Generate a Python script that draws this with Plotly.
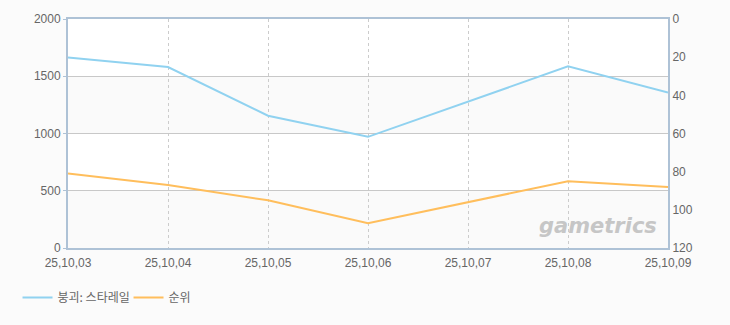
import plotly.graph_objects as go

dates = ["25,10,03", "25,10,04", "25,10,05", "25,10,06", "25,10,07", "25,10,08", "25,10,09"]
players = [1664, 1581, 1155, 971, None, 1586, 1357]
rank = [81, 87, 95, 107, None, 85, 88]
name_a = "붕괴: 스타레일"
name_b = "순위"
left_ticks = [0, 500, 1000, 1500, 2000]
right_ticks = [0, 20, 40, 60, 80, 100, 120]

font_fam = "Liberation Sans, Noto Sans CJK KR"
fig = go.Figure()
fig.add_trace(go.Scatter(x=dates, y=players, name=name_a, mode="lines", connectgaps=True,
                         line=dict(color="#90d2f0", width=2)))
fig.add_trace(go.Scatter(x=dates, y=rank, name=name_b, mode="lines", connectgaps=True, yaxis="y2",
                         line=dict(color="#ffbe5c", width=2)))

# alternating bands
for lo, hi in [(0, 500), (1000, 1500)]:
    fig.add_shape(type="rect", xref="paper", x0=0, x1=1, yref="y", y0=lo, y1=hi,
                  fillcolor="#fafafa", line=dict(width=0), layer="below")

fig.add_annotation(text="<i><b>gametrics</b></i>", xref="paper", yref="paper", x=0.985, y=0.035,
                   xanchor="right", yanchor="bottom", showarrow=False,
                   font=dict(family="DejaVu Sans", size=21, color="#c6c6c6"))

fig.update_layout(
    width=730, height=325,
    margin=dict(l=68, r=62, t=17, b=77),
    paper_bgcolor="#fbfbfb", plot_bgcolor="#ffffff",
    font=dict(family=font_fam, size=12, color="#666666"),
    showlegend=True,
    legend=dict(orientation="h", xref="container", yref="container", x=0.024, y=0.085,
                xanchor="left", yanchor="middle", font=dict(size=12, color="#666666",
                family="Noto Sans CJK KR"),
                itemwidth=30, entrywidth=66, entrywidthmode="pixels", bgcolor="rgba(0,0,0,0)"),
    xaxis=dict(type="category", range=[0, 6], showgrid=True, gridcolor="#cccccc", griddash="3px,3px",
               gridwidth=1, showline=True, linecolor="#aec2d6", linewidth=2, mirror=True,
               ticks="", ticklabelstandoff=3, tickfont=dict(size=12, color="#666666"), zeroline=False),
    yaxis=dict(range=[0, 2000], tickvals=left_ticks, showgrid=True, gridcolor="#c8c8c8", gridwidth=1,
               showline=True, linecolor="#aec2d6", linewidth=2, mirror=True, ticks="outside",
               ticklen=3, tickcolor="#aec2d6", zeroline=False, tickfont=dict(size=12, color="#666666")),
    yaxis2=dict(range=[120, 0], tickvals=right_ticks, overlaying="y", side="right", showgrid=False,
                showline=True, linecolor="#aec2d6", linewidth=2, ticks="", zeroline=False,
                tickfont=dict(size=12, color="#666666")),
)
fig.write_html("out.html")
